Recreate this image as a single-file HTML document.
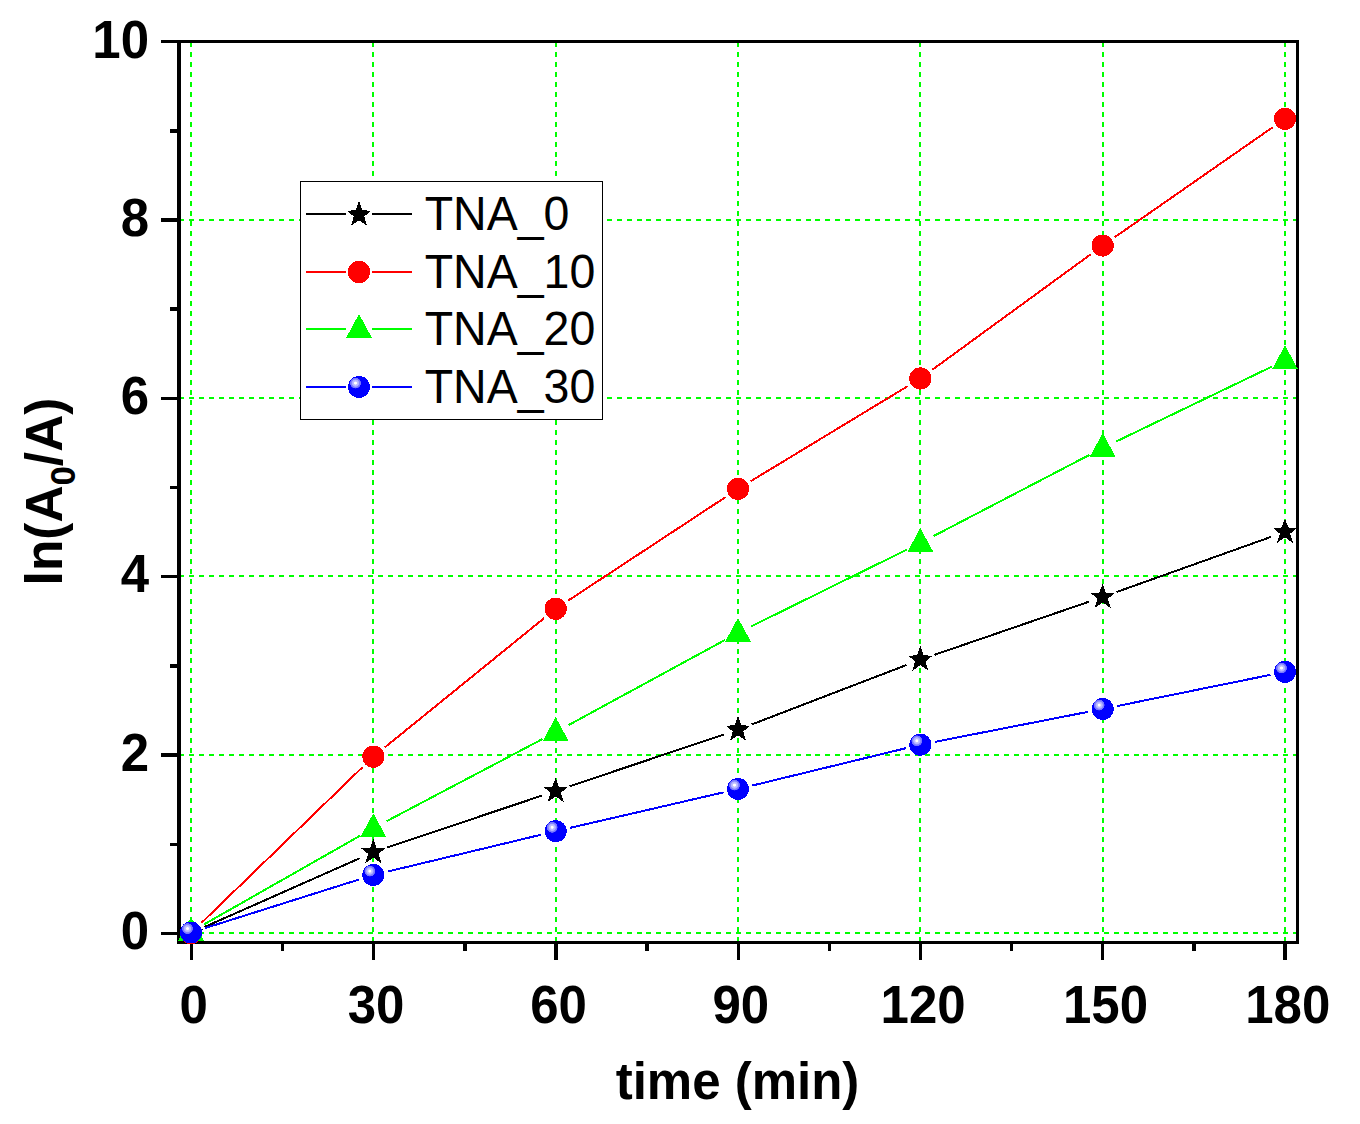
<!DOCTYPE html>
<html lang="en"><head><meta charset="utf-8"><title>ln(A0/A) vs time</title>
<style>
html,body{margin:0;padding:0;background:#fff;}
body{width:1360px;height:1124px;overflow:hidden;}
svg{display:block;}
text{font-family:"Liberation Sans",sans-serif;fill:#000;}
.b{font-weight:bold;font-size:51px;}
.lg{font-size:46.5px;}
.crisp{shape-rendering:crispEdges;}
</style></head><body>
<svg width="1360" height="1124" viewBox="0 0 1360 1124">
<defs><radialGradient id="ball" gradientUnits="objectBoundingBox" cx="0.341" cy="0.323" r="0.25" fx="0.341" fy="0.323"><stop offset="0" stop-color="#fff"/><stop offset="0.2" stop-color="#fff"/><stop offset="0.32" stop-color="#c4c4ff"/><stop offset="0.6" stop-color="#b0b0ff"/><stop offset="0.7" stop-color="#8484ff"/><stop offset="0.94" stop-color="#7070ff"/><stop offset="1" stop-color="#00f"/></radialGradient></defs>
<rect x="0" y="0" width="1360" height="1124" fill="#fff"/>
<g class="crisp" stroke="#0f0" stroke-width="2" fill="none" stroke-dasharray="5 4.94">
<line x1="191" y1="42.2" x2="191" y2="941"/>
<line x1="373" y1="42.2" x2="373" y2="941"/>
<line x1="556" y1="42.2" x2="556" y2="941"/>
<line x1="738" y1="42.2" x2="738" y2="941"/>
<line x1="920" y1="42.2" x2="920" y2="941"/>
<line x1="1103" y1="42.2" x2="1103" y2="941"/>
<line x1="1285" y1="42.2" x2="1285" y2="941"/>
<line x1="179.3" y1="933" x2="1296" y2="933"/>
<line x1="179.3" y1="755" x2="1296" y2="755"/>
<line x1="179.3" y1="576" x2="1296" y2="576"/>
<line x1="179.3" y1="398" x2="1296" y2="398"/>
<line x1="179.3" y1="220" x2="1296" y2="220"/>
</g>
<g class="crisp" fill="#000">
<rect x="177" y="40" width="4" height="904"/>
<rect x="1296" y="40" width="3" height="904"/>
<rect x="161" y="40" width="1138" height="3"/>
<rect x="177" y="941" width="1122" height="3"/>
<rect x="161" y="932" width="17" height="3"/>
<rect x="161" y="753" width="17" height="4"/>
<rect x="161" y="575" width="17" height="3"/>
<rect x="161" y="397" width="17" height="3"/>
<rect x="161" y="218" width="17" height="4"/>
<rect x="170" y="843" width="8" height="3"/>
<rect x="170" y="664" width="8" height="4"/>
<rect x="170" y="486" width="8" height="3"/>
<rect x="170" y="307" width="8" height="4"/>
<rect x="170" y="129" width="8" height="4"/>
<rect x="190" y="943" width="3" height="17"/>
<rect x="281" y="943" width="3" height="8"/>
<rect x="372" y="943" width="3" height="17"/>
<rect x="463" y="943" width="4" height="8"/>
<rect x="554" y="943" width="4" height="17"/>
<rect x="645" y="943" width="4" height="8"/>
<rect x="737" y="943" width="3" height="17"/>
<rect x="828" y="943" width="3" height="8"/>
<rect x="919" y="943" width="3" height="17"/>
<rect x="1010" y="943" width="3" height="8"/>
<rect x="1101" y="943" width="3" height="17"/>
<rect x="1192" y="943" width="4" height="8"/>
<rect x="1283" y="943" width="4" height="17"/>
</g>
<g class="crisp" stroke="#000" stroke-width="2" fill="none">
<line x1="204.53" y1="927.00" x2="359.80" y2="858.20"/>
<line x1="387.36" y1="847.49" x2="541.64" y2="795.71"/>
<line x1="569.70" y1="786.28" x2="723.97" y2="734.42"/>
<line x1="751.82" y1="724.40" x2="906.51" y2="665.00"/>
<line x1="934.33" y1="654.89" x2="1088.67" y2="601.81"/>
<line x1="1116.61" y1="592.02" x2="1271.06" y2="536.88"/>
</g>
<g class="crisp">
<polygon points="191.00,919.30 194.22,928.57 203.18,929.04 196.21,934.69 199.05,944.08 191.00,938.48 182.95,944.08 185.79,934.69 178.82,929.04 187.78,928.57" fill="#000"/>
<polygon points="373.33,838.50 376.55,847.77 385.51,848.24 378.54,853.89 381.38,863.28 373.33,857.68 365.28,863.28 368.12,853.89 361.15,848.24 370.11,847.77" fill="#000"/>
<polygon points="555.67,777.30 558.89,786.57 567.85,787.04 560.88,792.69 563.72,802.08 555.67,796.48 547.62,802.08 550.46,792.69 543.49,787.04 552.45,786.57" fill="#000"/>
<polygon points="738.00,716.00 741.22,725.27 750.18,725.74 743.21,731.39 746.05,740.78 738.00,735.18 729.95,740.78 732.79,731.39 725.82,725.74 734.78,725.27" fill="#000"/>
<polygon points="920.33,646.00 923.55,655.27 932.51,655.74 925.54,661.39 928.38,670.78 920.33,665.18 912.28,670.78 915.12,661.39 908.15,655.74 917.11,655.27" fill="#000"/>
<polygon points="1102.67,583.30 1105.89,592.57 1114.85,593.04 1107.88,598.69 1110.72,608.08 1102.67,602.48 1094.62,608.08 1097.46,598.69 1090.49,593.04 1099.45,592.57" fill="#000"/>
<polygon points="1285.00,518.20 1288.22,527.47 1297.18,527.94 1290.21,533.59 1293.05,542.98 1285.00,537.38 1276.95,542.98 1279.79,533.59 1272.82,527.94 1281.78,527.47" fill="#000"/>
</g>
<g class="crisp" stroke="#f00" stroke-width="2" fill="none">
<line x1="201.64" y1="922.71" x2="362.69" y2="766.99"/>
<line x1="384.82" y1="747.38" x2="544.18" y2="618.12"/>
<line x1="568.04" y1="600.67" x2="725.63" y2="497.03"/>
<line x1="750.66" y1="481.23" x2="907.67" y2="386.17"/>
<line x1="932.29" y1="369.78" x2="1090.71" y2="254.32"/>
<line x1="1114.82" y1="237.15" x2="1272.85" y2="127.15"/>
</g>
<g class="crisp">
<circle cx="191.00" cy="933.00" r="11.1" fill="#f00"/>
<circle cx="373.33" cy="756.70" r="11.1" fill="#f00"/>
<circle cx="555.67" cy="608.80" r="11.1" fill="#f00"/>
<circle cx="738.00" cy="488.90" r="11.1" fill="#f00"/>
<circle cx="920.33" cy="378.50" r="11.1" fill="#f00"/>
<circle cx="1102.67" cy="245.60" r="11.1" fill="#f00"/>
<circle cx="1285.00" cy="118.70" r="11.1" fill="#f00"/>
</g>
<g class="crisp" stroke="#0f0" stroke-width="2" fill="none">
<line x1="203.87" y1="924.49" x2="360.46" y2="835.51"/>
<line x1="386.42" y1="821.30" x2="542.58" y2="739.00"/>
<line x1="568.67" y1="725.03" x2="725.00" y2="639.97"/>
<line x1="751.27" y1="626.36" x2="907.06" y2="549.54"/>
<line x1="933.46" y1="536.16" x2="1089.54" y2="454.84"/>
<line x1="1116.01" y1="441.58" x2="1271.66" y2="366.72"/>
</g>
<g class="crisp">
<polygon points="191.00,916.80 204.00,940.80 178.00,940.80" fill="#0f0"/>
<polygon points="373.33,813.20 386.33,837.20 360.33,837.20" fill="#0f0"/>
<polygon points="555.67,717.10 568.67,741.10 542.67,741.10" fill="#0f0"/>
<polygon points="738.00,617.90 751.00,641.90 725.00,641.90" fill="#0f0"/>
<polygon points="920.33,528.00 933.33,552.00 907.33,552.00" fill="#0f0"/>
<polygon points="1102.67,433.00 1115.67,457.00 1089.67,457.00" fill="#0f0"/>
<polygon points="1285.00,345.30 1298.00,369.30 1272.00,369.30" fill="#0f0"/>
</g>
<g class="crisp" stroke="#00f" stroke-width="2" fill="none">
<line x1="205.11" y1="928.05" x2="359.22" y2="879.45"/>
<line x1="387.72" y1="871.54" x2="541.28" y2="834.66"/>
<line x1="570.09" y1="827.86" x2="723.58" y2="792.34"/>
<line x1="752.38" y1="785.51" x2="905.95" y2="748.19"/>
<line x1="934.85" y1="741.86" x2="1088.15" y2="711.84"/>
<line x1="1117.17" y1="706.05" x2="1270.50" y2="674.85"/>
</g>
<g class="crisp">
<circle cx="191.00" cy="932.50" r="11" fill="#00f"/><circle cx="191.00" cy="932.50" r="11" fill="url(#ball)"/>
<circle cx="373.33" cy="875.00" r="11" fill="#00f"/><circle cx="373.33" cy="875.00" r="11" fill="url(#ball)"/>
<circle cx="555.67" cy="831.20" r="11" fill="#00f"/><circle cx="555.67" cy="831.20" r="11" fill="url(#ball)"/>
<circle cx="738.00" cy="789.00" r="11" fill="#00f"/><circle cx="738.00" cy="789.00" r="11" fill="url(#ball)"/>
<circle cx="920.33" cy="744.70" r="11" fill="#00f"/><circle cx="920.33" cy="744.70" r="11" fill="url(#ball)"/>
<circle cx="1102.67" cy="709.00" r="11" fill="#00f"/><circle cx="1102.67" cy="709.00" r="11" fill="url(#ball)"/>
<circle cx="1285.00" cy="671.90" r="11" fill="#00f"/><circle cx="1285.00" cy="671.90" r="11" fill="url(#ball)"/>
</g>
<rect class="crisp" x="300.5" y="181.5" width="302" height="238" fill="#fff" stroke="#000" stroke-width="1"/>
<g class="crisp" stroke="#000" stroke-width="2"><line x1="306" y1="214" x2="346" y2="214"/><line x1="372" y1="214" x2="412" y2="214"/></g>
<g class="crisp"><polygon points="359.00,201.00 362.22,210.27 371.18,210.74 364.21,216.39 367.05,225.78 359.00,220.18 350.95,225.78 353.79,216.39 346.82,210.74 355.78,210.27" fill="#000"/></g>
<text class="lg" transform="translate(424.7,230) scale(1,1.052)">TNA_0</text>
<g class="crisp" stroke="#f00" stroke-width="2"><line x1="306" y1="272" x2="346" y2="272"/><line x1="372" y1="272" x2="412" y2="272"/></g>
<g class="crisp"><circle cx="359.00" cy="272.00" r="11.1" fill="#f00"/></g>
<text class="lg" transform="translate(424.7,288) scale(1,1.052)">TNA_10</text>
<g class="crisp" stroke="#0f0" stroke-width="2"><line x1="306" y1="329" x2="346" y2="329"/><line x1="372" y1="329" x2="412" y2="329"/></g>
<g class="crisp"><polygon points="359.00,314.00 372.00,338.00 346.00,338.00" fill="#0f0"/></g>
<text class="lg" transform="translate(424.7,345) scale(1,1.052)">TNA_20</text>
<g class="crisp" stroke="#00f" stroke-width="2"><line x1="306" y1="387" x2="346" y2="387"/><line x1="372" y1="387" x2="412" y2="387"/></g>
<g class="crisp"><circle cx="359.00" cy="387.00" r="11" fill="#00f"/><circle cx="359.00" cy="387.00" r="11" fill="url(#ball)"/></g>
<text class="lg" transform="translate(424.7,403) scale(1,1.052)">TNA_30</text>
<text class="b" text-anchor="end" transform="translate(149,948.7) scale(1,1.04)">0</text>
<text class="b" text-anchor="end" transform="translate(149,770.5) scale(1,1.04)">2</text>
<text class="b" text-anchor="end" transform="translate(149,592.2) scale(1,1.04)">4</text>
<text class="b" text-anchor="end" transform="translate(149,413.9) scale(1,1.04)">6</text>
<text class="b" text-anchor="end" transform="translate(149,235.7) scale(1,1.04)">8</text>
<text class="b" text-anchor="end" transform="translate(149,57.5) scale(1,1.04)">10</text>
<text class="b" text-anchor="middle" transform="translate(193.8,1023) scale(1,1.04)">0</text>
<text class="b" text-anchor="middle" transform="translate(376.1,1023) scale(1,1.04)">30</text>
<text class="b" text-anchor="middle" transform="translate(558.5,1023) scale(1,1.04)">60</text>
<text class="b" text-anchor="middle" transform="translate(740.8,1023) scale(1,1.04)">90</text>
<text class="b" text-anchor="middle" transform="translate(923.1,1023) scale(1,1.04)">120</text>
<text class="b" text-anchor="middle" transform="translate(1105.5,1023) scale(1,1.04)">150</text>
<text class="b" text-anchor="middle" transform="translate(1287.8,1023) scale(1,1.04)">180</text>
<text class="b" text-anchor="middle" transform="translate(737.5,1099)">time (min)</text>
<text class="b" text-anchor="middle" transform="translate(62,491.5) rotate(-90) scale(1.008,1.025)">ln(A<tspan font-size="34.5px" dy="13">0</tspan><tspan dy="-13">/A)</tspan></text>
</svg></body></html>
